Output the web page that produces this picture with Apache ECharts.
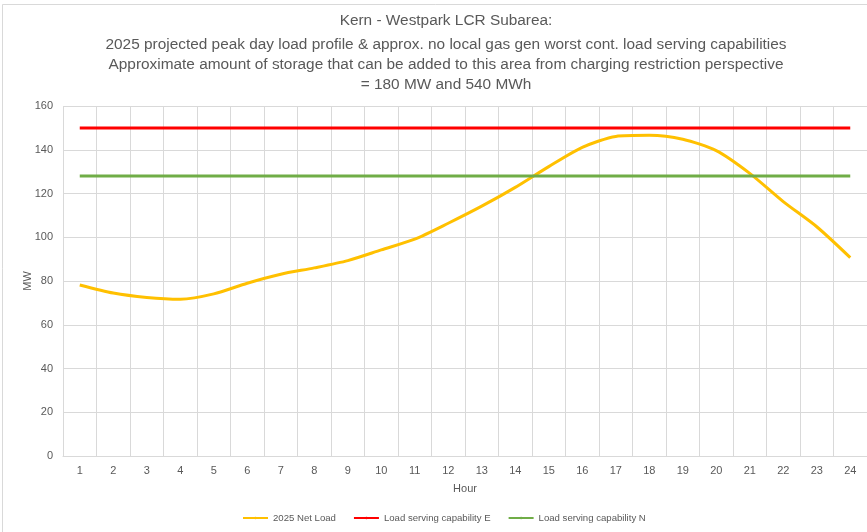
<!DOCTYPE html>
<html><head><meta charset="utf-8">
<script src="https://cdn.jsdelivr.net/npm/echarts@6/dist/echarts.min.js"></script>
<style>html,body{margin:0;padding:0;background:#fff}#c{width:867px;height:532px}</style>
</head><body><div id="c"></div>
<script>
const hours = ['1','2','3','4','5','6','7','8','9','10','11','12','13','14','15','16','17','18','19','20','21','22','23','24'];
const netLoad = [78.2,74.5,72.5,71.7,74.1,79,83.1,86,89.3,94.2,99.1,106.4,114.2,122.8,132.3,141.1,146.1,146.6,144.8,139.6,129.2,116.3,104.8,90.7];
const capE = [150,150,150,150,150,150,150,150,150,150,150,150,150,150,150,150,150,150,150,150,150,150,150,150];
const capN = [128,128,128,128,128,128,128,128,128,128,128,128,128,128,128,128,128,128,128,128,128,128,128,128];
const titleLines = ['Kern - Westpark LCR Subarea:','2025 projected peak day load profile & approx. no local gas gen worst cont. load serving capabilities','Approximate amount of storage that can be added to this area from charging restriction perspective','= 180 MW and 540 MWh'];

const FONT = 'Liberation Sans, sans-serif';
const chart = echarts.init(document.getElementById('c'), null, {renderer:'canvas'});
chart.setOption({
  animation:false,
  backgroundColor:'#fff',
  textStyle:{fontFamily:FONT},
  graphic:[{type:'rect',shape:{x:2.5,y:4.5,width:880,height:540},style:{fill:'none',stroke:'#D9D9D9',lineWidth:1},silent:true}],
  title:{
    text:titleLines[0], subtext:titleLines.slice(1).join('\n'),
    left:441, top:6, textAlign:'center', itemGap:4,
    textStyle:{fontFamily:FONT,fontSize:15.4,fontWeight:'normal',color:'#595959',lineHeight:20},
    subtextStyle:{fontFamily:FONT,fontSize:15.4,color:'#595959',lineHeight:20}
  },
  legend:{
    left:237, top:508, itemWidth:25, itemHeight:3, itemGap:17,
    textStyle:{fontFamily:FONT,fontSize:9.6,color:'#595959'},
    data:['2025 Net Load','Load serving capability E','Load serving capability N']
  },
  grid:{left:63,right:0,top:106,bottom:76,containLabel:false},
  xAxis:{
    type:'category', data:hours, boundaryGap:true,
    name:'Hour', nameLocation:'middle', nameGap:27,
    nameTextStyle:{fontFamily:FONT,fontSize:11,color:'#595959'},
    axisLine:{lineStyle:{color:'#D9D9D9'}},
    axisTick:{show:false},
    axisLabel:{fontFamily:FONT,fontSize:11,color:'#595959',margin:9},
    splitLine:{show:true,lineStyle:{color:'#D9D9D9'}}
  },
  yAxis:{
    type:'value', min:0, max:160, interval:20,
    name:'MW', nameLocation:'middle', nameGap:30, nameRotate:90, nameMoveOverlap:false,
    nameTextStyle:{fontFamily:FONT,fontSize:11,color:'#595959'},
    axisLine:{show:false}, axisTick:{show:false},
    axisLabel:{fontFamily:FONT,fontSize:11,color:'#595959',margin:10},
    splitLine:{lineStyle:{color:'#D9D9D9'}}
  },
  series:[
    {name:'2025 Net Load',type:'line',data:netLoad,smooth:0.25,symbol:'none',lineStyle:{color:'#FFC000',width:3},itemStyle:{color:'#FFC000'}},
    {name:'Load serving capability E',type:'line',data:capE,symbol:'none',lineStyle:{color:'#FF0000',width:3},itemStyle:{color:'#FF0000'}},
    {name:'Load serving capability N',type:'line',data:capN,symbol:'none',lineStyle:{color:'#70AD47',width:3},itemStyle:{color:'#70AD47'}}
  ]
});
</script></body></html>
